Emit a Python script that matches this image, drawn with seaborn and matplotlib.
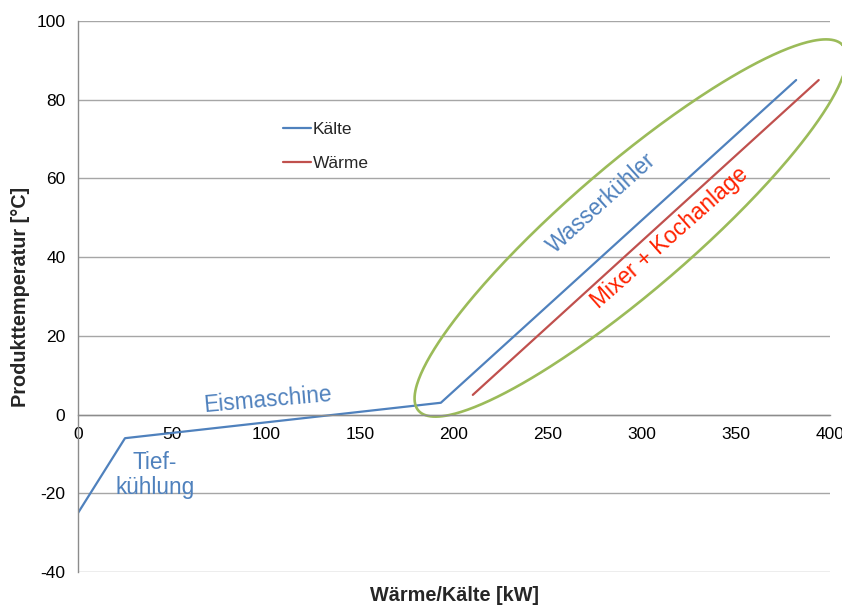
import numpy as np
import pandas as pd
import matplotlib
matplotlib.use("Agg")
import matplotlib.pyplot as plt
import seaborn as sns

# ---- data ----
kaelte_x = [0, 25, 193, 382]
kaelte_y = [-25, -6, 3, 85]
waerme_x = [210, 394]
waerme_y = [5, 85]
series_names = ["Kälte", "Wärme"]
series_colors = ["#4F81BD", "#C0504D"]
x_ticks = [0, 50, 100, 150, 200, 250, 300, 350, 400]
y_ticks = [-40, -20, 0, 20, 40, 60, 80, 100]

df = pd.DataFrame({
    "x": kaelte_x + waerme_x,
    "y": kaelte_y + waerme_y,
    "Serie": [series_names[0]] * len(kaelte_x) + [series_names[1]] * len(waerme_x),
})

sns.set_theme(style="white")
plt.rcParams["font.family"] = ["Liberation Sans", "DejaVu Sans"]
plt.rcParams["axes.unicode_minus"] = False

fig = plt.figure(figsize=(8.42, 6.06), dpi=100)
W, H = 842, 606
ax = fig.add_axes([78 / W, (H - 572) / H, (830 - 78) / W, (572 - 21) / H])

sns.lineplot(data=df, x="x", y="y", hue="Serie", palette=series_colors,
             hue_order=series_names, linewidth=1.6, ax=ax, legend=False,
             estimator=None, sort=False)

ax.set_xlim(0, 400)
ax.set_ylim(-40, 100)
ax.set_xticks(x_ticks)
ax.set_yticks(y_ticks)
ax.tick_params(axis="both", labelsize=12.5, colors="#000000", length=5,
               width=1, direction="out")
ax.tick_params(axis="x", color="#8C8C8C", pad=4)
ax.tick_params(axis="y", color="#8C8C8C", pad=4)

ax.grid(axis="y", color="#A6A6A6", linewidth=1)
ax.grid(axis="x", visible=False)
ax.set_axisbelow(True)
for s in ["top", "right"]:
    ax.spines[s].set_visible(False)
ax.spines["bottom"].set_position(("data", 0))
ax.spines["bottom"].set_color("#8C8C8C")
ax.spines["left"].set_color("#8C8C8C")
ax.spines["bottom"].set_linewidth(1)
ax.spines["left"].set_linewidth(1)

ax.set_xlabel("Wärme/Kälte [kW]", fontsize=14.3, fontweight="bold")
ax.set_ylabel("Produkttemperatur [°C]", fontsize=14.3, fontweight="bold")
ax.xaxis.set_label_coords(0.5, -0.026)
ax.yaxis.set_label_coords(-0.064, 0.5)

# legend
from matplotlib.lines import Line2D
handles = [Line2D([0], [0], color=c, lw=1.6) for c in series_colors]
ax.legend(handles, series_names, loc="upper left", bbox_to_anchor=(0.263, 0.83),
          borderaxespad=0, frameon=False, fontsize=12.5, handlelength=1.65,
          handletextpad=0.1, labelspacing=1.12)

# annotations
txt_blue = "#4F81BD"
ax.text(101, 3.8, "Eismaschine", color=txt_blue, fontsize=16.3, rotation=5,
        ha="center", va="center", rotation_mode="anchor")
ax.text(41, -15.3, "Tief-\nkühlung", color=txt_blue, fontsize=16.3, ha="center",
        va="center", multialignment="center", linespacing=1.12)
ax.text(278.5, 53.8, "Wasserkühler", color=txt_blue, fontsize=16.3, rotation=42,
        ha="center", va="center", rotation_mode="anchor")
ax.text(314.5, 45.0, "Mixer + Kochanlage", color="#FF2200", fontsize=16.3,
        rotation=41.5, ha="center", va="center", rotation_mode="anchor")

# green ellipse around the heat/cold lines (defined in screen space)
ell_center = (294.0, 47.4)
ell_a_px, ell_b_px, ell_angle = 280.0, 62.5, 40.7
cx, cy = ax.transData.transform(ell_center)
t = np.linspace(0, 2 * np.pi, 400)
th = np.deg2rad(ell_angle)
px = cx + ell_a_px * np.cos(t) * np.cos(th) - ell_b_px * np.sin(t) * np.sin(th)
py = cy + ell_a_px * np.cos(t) * np.sin(th) + ell_b_px * np.sin(t) * np.cos(th)
pts = ax.transData.inverted().transform(np.column_stack([px, py]))
ax.plot(pts[:, 0], pts[:, 1], color="#9BBB59", lw=1.9, clip_on=False)

fig.savefig("out.png", dpi=100)
